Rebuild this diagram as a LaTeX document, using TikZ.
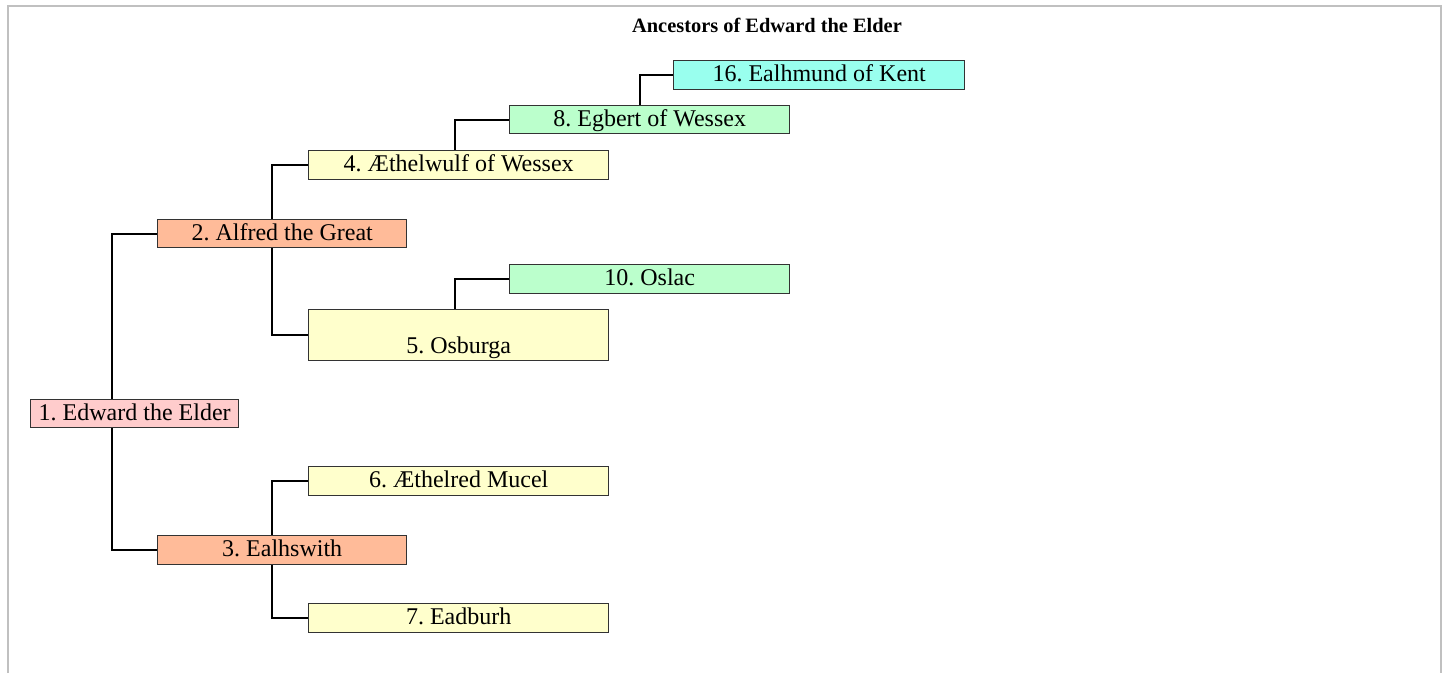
\documentclass[tikz,border=0pt]{standalone}
\usepackage{fontspec}
\setmainfont{Liberation Serif}
\usetikzlibrary{backgrounds}
\definecolor{cpink}{HTML}{FFCCCC}
\definecolor{csalmon}{HTML}{FFBB99}
\definecolor{cyellow}{HTML}{FFFFCC}
\definecolor{cgreen}{HTML}{BBFFCC}
\definecolor{ccyan}{HTML}{99FFEE}
\definecolor{cframe}{HTML}{C0C0C0}
\definecolor{cedge}{HTML}{333333}
\frenchspacing
\begin{document}
\begin{tikzpicture}[x=1pt,y=-1pt,
  person/.style={draw=cedge, line width=1.4pt, anchor=north west, inner sep=0pt,
    text height=18pt, text depth=5pt, align=center,
    font=\fontsize{24}{28}\selectfont},
  link/.style={line width=2.2pt, draw=black},
  frameline/.style={line width=2pt, draw=cframe}]
\useasboundingbox (0,0) rectangle (1449,673);
\draw[frameline] (8,673) -- (8,6) -- (1441,6) -- (1441,673);
\node[font=\bfseries\fontsize{20.4}{24}\selectfont, anchor=base] (title) at (767,32) {Ancestors of Edward the Elder};

\node[person, fill=cpink, minimum width=208pt, minimum height=28pt] (n1) at (30,399) {1. Edward the Elder};
\node[person, fill=csalmon, minimum width=249pt, minimum height=28pt] (n2) at (157,219) {2. Alfred the Great};
\node[person, fill=csalmon, minimum width=249pt, minimum height=29pt] (n3) at (157,535) {3. Ealhswith};
\node[person, fill=cyellow, minimum width=300pt, minimum height=29pt] (n4) at (308,150) {4. Æthelwulf of Wessex};
\node[person, fill=cyellow, minimum width=300pt, minimum height=51pt, text height=42pt] (n5) at (308,309) {5. Osburga};
\node[person, fill=cyellow, minimum width=300pt, minimum height=29pt] (n6) at (308,466) {6. Æthelred Mucel};
\node[person, fill=cyellow, minimum width=300pt, minimum height=29pt] (n7) at (308,603) {7. Eadburh};
\node[person, fill=cgreen, minimum width=280pt, minimum height=28pt] (n8) at (509,105) {8. Egbert of Wessex};
\node[person, fill=cgreen, minimum width=280pt, minimum height=29pt] (n10) at (509,264) {10. Oslac};
\node[person, fill=ccyan, minimum width=291pt, minimum height=29pt] (n16) at (673,60) {16. Ealhmund of Kent};

\begin{scope}[on background layer]
\draw[link] (n2.west) -- ++(-45,0) |- (n3.west);
\draw[link] (n4.west) -- ++(-36,0) |- (n5.west);
\draw[link] (n6.west) -- ++(-36,0) |- (n7.west);
\draw[link] (n8.west) -- ++(-54,0) coordinate (k4) -- (k4 |- n4.north);
\draw[link] (n10.west) -- ++(-54,0) coordinate (k5) -- (k5 |- n5.north);
\draw[link] (n16.west) -- ++(-33,0) coordinate (k8) -- (k8 |- n8.north);
\end{scope}
\end{tikzpicture}
\end{document}
